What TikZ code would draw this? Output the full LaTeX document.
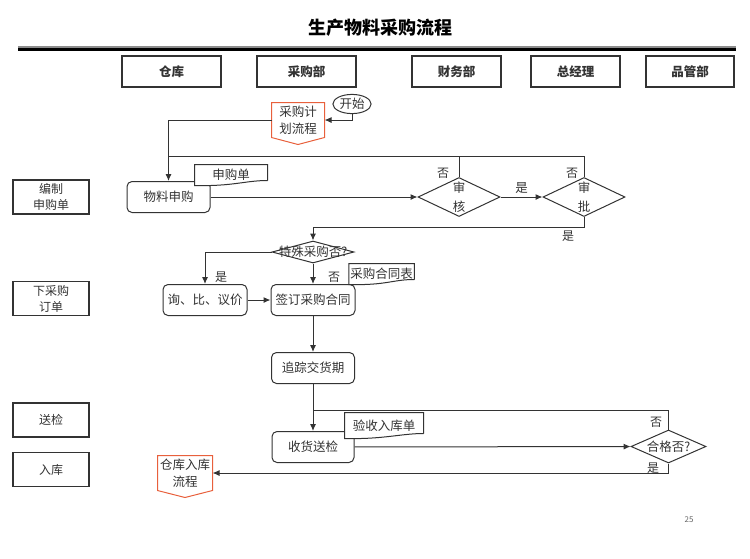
\documentclass[tikz,border=0pt]{standalone}
\usepackage{fontspec}
\setmainfont{Noto Sans CJK SC}
\usetikzlibrary{graphs, quotes, shapes.geometric, arrows.meta}

\definecolor{offred}{HTML}{E8603C}

% document shape with wavy bottom, drawn round a named node
\newcommand{\docoutline}[1]{%
  \draw ([yshift=5pt]#1.south east) -- (#1.north east) -- (#1.north west) -- (#1.south west)
    .. controls +(38,1) and +(-22,0) .. ([yshift=5pt]#1.south east);}
% off-page connector, drawn round a named node
\newcommand{\offpage}[1]{%
  \draw[offred] (#1.north west) -- (#1.north east) -- (#1.south east)
    -- ([yshift=-7pt]#1.south) -- (#1.south west) -- cycle;}

\begin{document}
\begin{tikzpicture}[x=1pt, y=-1pt, color=black!80, line width=1pt,
		>={Latex[length=7pt, width=6pt]},
		font=\fontsize{12.5}{16}\selectfont,
		lane/.style={draw, line width=1.2pt, minimum height=31pt, inner sep=2pt, font=\fontsize{12.5}{16}\selectfont\bfseries},
		side/.style={draw, line width=1.1pt, minimum width=76pt, minimum height=34pt, inner sep=1pt, align=center, font=\fontsize{12}{16}\selectfont},
		proc/.style={draw, rounded corners=5pt, minimum width=83pt, minimum height=31pt, inner sep=2pt},
		decision/.style={draw, diamond, aspect=2, inner sep=0pt, align=center, font=\fontsize{12.5}{19}\selectfont},
		docnode/.style={fill=white, inner sep=1pt, minimum height=20pt},
		offnode/.style={inner sep=0pt, align=center, minimum height=34pt, font=\fontsize{12.5}{17}\selectfont},
		lbl/.style={inner sep=0pt, font=\fontsize{12}{14}\selectfont}]
		\useasboundingbox (0,0) rectangle (750,558);
		
		\node[font=\fontsize{18}{20}\selectfont\bfseries, text=black] (title) at (380,28) {生产物料采购流程};
		\draw[black!45, line width=5pt] (18,48) -- (736,48);
		\draw[black, line width=3pt] (18,49.5) -- (736,49.5);
		
		\node[lane, minimum width=99pt] (warehouse) at (171.5,71.5) {仓库};
		\node[lane, minimum width=99pt] (purchase)  at (306.5,71.5) {采购部};
		\node[lane, minimum width=89pt] (finance)   at (456.5,71.5) {财务部};
		\node[lane, minimum width=89pt] (manager)   at (575.5,71.5) {总经理};
		\node[lane, minimum width=88pt] (quality)   at (690,71.5)   {品管部};
		
		\node[side] (stage 1) at (51,197)   {编制\\申购单};
		\node[side] (stage 2) at (51,298.5) {下采购\\订单};
		\node[side] (stage 3) at (51,420)   {送检};
		\node[side] (stage 4) at (51,469.5) {入库};
		
		\node[draw, ellipse, inner sep=1pt, minimum width=38pt, minimum height=18pt] (start) at (352,104) {开始};
		\node[offnode, minimum width=52pt] (plan) at (298,120) {采购计\\划流程};
		\node[proc]                        (apply)     at (168.5,197) {物料申购};
		\node[docnode, minimum width=72pt] (apply doc) at (231,175)   {申购单};
		\node[decision, minimum width=82pt, minimum height=39pt] (audit)   at (459,197) {审\\核};
		\node[decision, minimum width=82pt, minimum height=39pt] (approve) at (584,197) {审\\批};
		\node[decision, minimum width=82pt, minimum height=22pt] (special) at (313,252) {\makebox[0pt]{特殊采购否?}};
		\node[proc, minimum width=84pt]    (quote)    at (205,300)   {询、比、议价};
		\node[proc, minimum width=84pt]    (sign)     at (313,300)   {签订采购合同};
		\node[docnode, minimum width=64pt] (contract) at (381.5,274) {采购合同表};
		\node[proc]                        (track)    at (313,368)   {追踪交货期};
		\node[proc, minimum width=82pt]    (check)    at (313,447)   {收货送检};
		\node[docnode, minimum width=78pt, minimum height=25pt] (receipt) at (384,425.5) {验收入库单};
		\node[decision, minimum width=75pt, minimum height=33pt] (pass) at (668.5,446.5) {\makebox[0pt]{合格否?}};
		\node[offnode, minimum width=54pt] (store) at (185,473) {仓库入库\\流程};
		
		\docoutline{apply doc}
		\docoutline{contract}
		\docoutline{receipt}
		\offpage{plan}
		\offpage{store}
		
		\coordinate (redo audit) at (168.5,156);
		\coordinate (redo check) at (313,410);
		
		\graph{
			(apply) -> (audit) ->["是" above] (approve);
			(quote) -> (sign) -> (track) -> (check) -> (pass);
			(special) -> (sign);
		};
		\draw[->] (start.south) |- (plan.east);
		\draw[->] (plan.west) -| (apply.north);
		\draw (audit.north) -- (audit.north |- redo audit);
		\draw (approve.north) |- (redo audit);
		\draw[->] (approve.south) -- ++(0,10) -| (special.north);
		\draw[->] (special.west) -| (quote.north);
		\draw (pass.north) |- (redo check);
		\draw[->] (pass.south) |- (store.east);
		
		\node[lbl] at (443,173) {否};
		\node[lbl] at (572,173) {否};
		\node[lbl] at (568,236) {是};
		\node[lbl] at (221,277) {是};
		\node[lbl] at (334,277) {否};
		\node[lbl] at (656,422) {否};
		\node[lbl] at (653,468) {是};
		\node[font=\fontsize{8}{9}\selectfont, text=black!60] (page) at (689,520) {25};
	\end{tikzpicture}
\end{document}
